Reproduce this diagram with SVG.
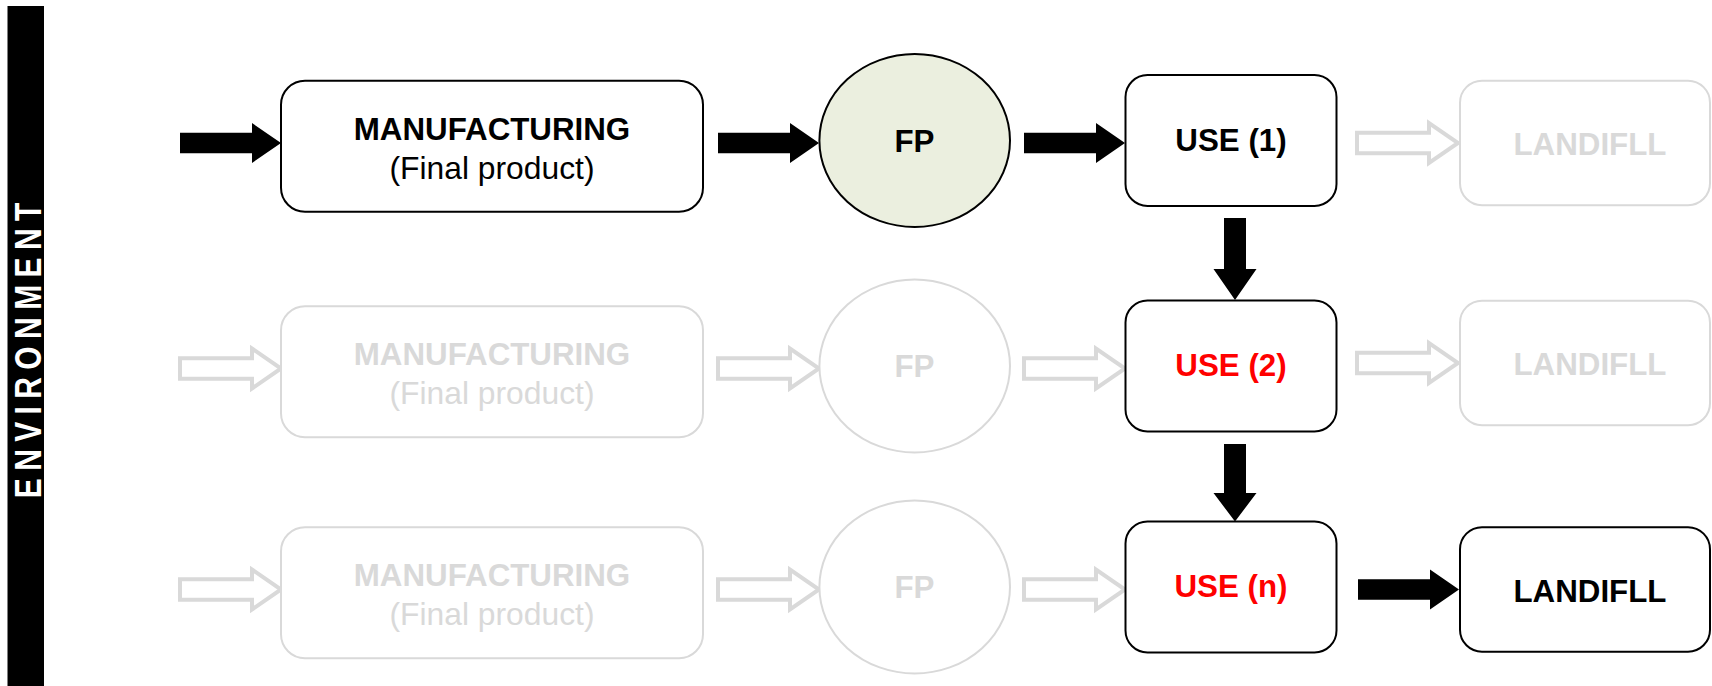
<svg xmlns="http://www.w3.org/2000/svg" width="1712" height="686" viewBox="0 0 1712 686">
<style>
text{font-family:"Liberation Sans",Arial,sans-serif;text-anchor:middle}
.b{font-weight:bold;font-size:31.3px}
.r{font-size:31.8px}
.k{fill:#000}
.g{fill:#D9D9D9}
.red{fill:#FF0000}
.box{fill:#fff;stroke:#000;stroke-width:2}
.gbox{fill:#fff;stroke:#D9D9D9;stroke-width:2}
.ab{fill:#000}
.ag{fill:#fff;stroke:#D9D9D9;stroke-width:4}
.env{font-weight:bold;font-size:30px;fill:#fff;letter-spacing:7.4px}
</style>
<defs>
<path id="arr" d="M0,-10.3 H72 V-20 L101,0 L72,20 V10.3 H0 Z"/>
</defs>
<g id="environment">
<rect x="7.5" y="6" width="36.5" height="680" fill="#000"/>
<text class="env" transform="translate(41,350.5) rotate(-90) scale(1,1.25)" x="3.7" y="0">ENVIRONMENT</text>
</g>
<g id="connectors">
<use href="#arr" class="ab" transform="translate(180,143)"/>
<use href="#arr" class="ab" transform="translate(718,143)"/>
<use href="#arr" class="ab" transform="translate(1024,143)"/>
<use href="#arr" class="ag" transform="translate(1357,143)"/>
<use href="#arr" class="ag" transform="translate(180,368.5)"/>
<use href="#arr" class="ag" transform="translate(718,368.5)"/>
<use href="#arr" class="ag" transform="translate(1024,368.5)"/>
<use href="#arr" class="ag" transform="translate(1357,363)"/>
<use href="#arr" class="ag" transform="translate(180,589.5)"/>
<use href="#arr" class="ag" transform="translate(718,589.5)"/>
<use href="#arr" class="ag" transform="translate(1024,589.5)"/>
<use href="#arr" class="ab" transform="translate(1358,589.5)"/>
<path class="ab" d="M1224,218 H1246 V269 H1256.5 L1235,300 L1213.5,269 H1224 Z"/>
<path class="ab" d="M1224,444 H1246 V493 H1256.5 L1235,521.5 L1213.5,493 H1224 Z"/>
</g>
<g id="manufacturing1">
<rect class="box" x="281" y="80.7" width="422" height="131" rx="24"/>
<text class="b k" x="492" y="139.7">MANUFACTURING</text>
<text class="r k" x="492" y="178.5">(Final product)</text>
</g>
<g id="fp1">
<ellipse cx="914.7" cy="140.5" rx="95.3" ry="86.5" fill="#EBEFDF" stroke="#000" stroke-width="2"/>
<text class="b k" x="914.5" y="151.7">FP</text>
</g>
<g id="use1">
<rect class="box" x="1125.5" y="75" width="211" height="131" rx="22"/>
<text class="b k" x="1231" y="150.7">USE (1)</text>
</g>
<g id="landfill1">
<rect class="gbox" x="1460" y="80.7" width="250" height="124.5" rx="22"/>
<text class="b g" x="1590" y="155">LANDIFLL</text>
</g>
<g id="manufacturing2">
<rect class="gbox" x="281" y="306.2" width="422" height="131" rx="24"/>
<text class="b g" x="492" y="365.2">MANUFACTURING</text>
<text class="r g" x="492" y="404">(Final product)</text>
</g>
<g id="fp2">
<ellipse cx="914.7" cy="366" rx="95.3" ry="86.5" fill="#fff" stroke="#D9D9D9" stroke-width="2"/>
<text class="b g" x="914.5" y="377.2">FP</text>
</g>
<g id="use2">
<rect class="box" x="1125.5" y="300.5" width="211" height="131" rx="22"/>
<text class="b red" x="1231" y="376.2">USE (2)</text>
</g>
<g id="landfill2">
<rect class="gbox" x="1460" y="300.7" width="250" height="124.5" rx="22"/>
<text class="b g" x="1590" y="375">LANDIFLL</text>
</g>
<g id="manufacturing3">
<rect class="gbox" x="281" y="527.2" width="422" height="131" rx="24"/>
<text class="b g" x="492" y="586.2">MANUFACTURING</text>
<text class="r g" x="492" y="625">(Final product)</text>
</g>
<g id="fp3">
<ellipse cx="914.7" cy="587" rx="95.3" ry="86.5" fill="#fff" stroke="#D9D9D9" stroke-width="2"/>
<text class="b g" x="914.5" y="598.2">FP</text>
</g>
<g id="usen">
<rect class="box" x="1125.5" y="521.5" width="211" height="131" rx="22"/>
<text class="b red" x="1231" y="597.2">USE (n)</text>
</g>
<g id="landfill3">
<rect class="box" x="1460" y="527.2" width="250" height="124.5" rx="22"/>
<text class="b k" x="1590" y="601.5">LANDIFLL</text>
</g>
</svg>
